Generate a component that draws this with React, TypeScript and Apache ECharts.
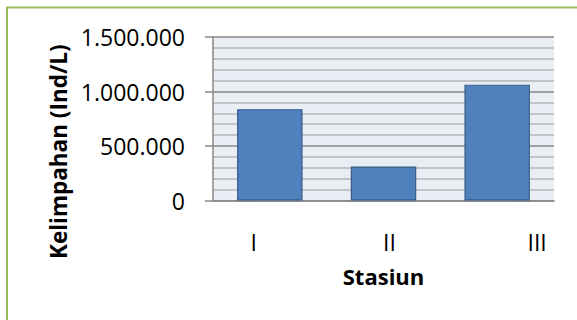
import React, { useEffect, useRef } from "react";
import * as echarts from "echarts";

const categories = ["I", "II", "III"];
const kelimpahan = [838000, 312000, 1063000];
const yTicks = [0, 500000, 1000000, 1500000];
const labelShift = ["a", "b", "c"];

function fmt(v: number): string {
  return String(Math.round(v)).replace(/\B(?=(\d{3})+(?!\d))/g, ".");
}

export default function App() {
  const ref = useRef<HTMLDivElement>(null);
  useEffect(() => {
    if (!ref.current) return;
    const chart = echarts.init(ref.current, undefined, { renderer: "svg" });
    const font = "'Open Sans', sans-serif";
    chart.setOption({
      animation: false,
      backgroundColor: "#ffffff",
      textStyle: { fontFamily: font },
      graphic: [
        {
          type: "rect",
          shape: { x: 7, y: 7.5, width: 700, height: 400 },
          style: { fill: "none", stroke: "#9BBB59", lineWidth: 2 },
          silent: true,
        },
      ],
      grid: {
        left: 213,
        top: 37,
        right: 23,
        bottom: 119.5,
        show: true,
        backgroundColor: "#E9EDF4",
        borderWidth: 0,
        containLabel: false,
      },
      xAxis: {
        type: "category",
        data: categories,
        axisTick: { show: false },
        axisLine: { show: true, lineStyle: { color: "#878787", width: 1.5 } },
        axisLabel: {
          margin: 30,
          fontFamily: font,
          fontSize: 23,
          color: "#000",
          formatter: (v: string, i: number) => `{${labelShift[i]}|${v}}`,
          rich: {
            a: { fontSize: 23, fontFamily: font, color: "#000", padding: [0, 32, 0, 0] },
            b: { fontSize: 23, fontFamily: font, color: "#000", padding: [0, 0, 0, 12] },
            c: { fontSize: 23, fontFamily: font, color: "#000", padding: [0, 0, 0, 80] },
          },
        },
        name: "Stasiun",
        nameLocation: "middle",
        nameGap: 64,
        nameTextStyle: { fontFamily: font, fontSize: 22, fontWeight: "bold", color: "#000" },
      },
      yAxis: {
        type: "value",
        min: yTicks[0],
        max: yTicks[yTicks.length - 1],
        interval: 500000,
        axisLine: { show: true, lineStyle: { color: "#878787", width: 1.5 } },
        axisTick: { show: true, length: 8, lineStyle: { color: "#878787", width: 1.5 } },
        minorTick: { show: false, splitNumber: 5 },
        splitLine: { show: true, lineStyle: { color: "#878787", width: 1.5 } },
        minorSplitLine: { show: true, lineStyle: { color: "#B4B4B4", width: 1.5 } },
        axisLabel: {
          margin: 28,
          fontFamily: font,
          fontSize: 23,
          color: "#000",
          formatter: (v: number) => fmt(v),
        },
        name: "Kelimpahan (Ind/L)",
        nameLocation: "middle",
        nameGap: 143,
        nameTextStyle: {
          fontFamily: font,
          fontSize: 22.5,
          fontWeight: "bold",
          color: "#000",
          padding: [0, 66, 0, 0],
        },
      },
      series: [
        {
          type: "bar",
          data: kelimpahan,
          barWidth: "57.6%",
          itemStyle: { color: "#4F81BD", borderColor: "#385D8A", borderWidth: 1.2 },
        },
      ],
    });
    return () => chart.dispose();
  }, []);
  return (
    <div
      ref={ref}
      style={{ position: "fixed", left: 0, top: 0, width: 577, height: 320 }}
    />
  );
}
